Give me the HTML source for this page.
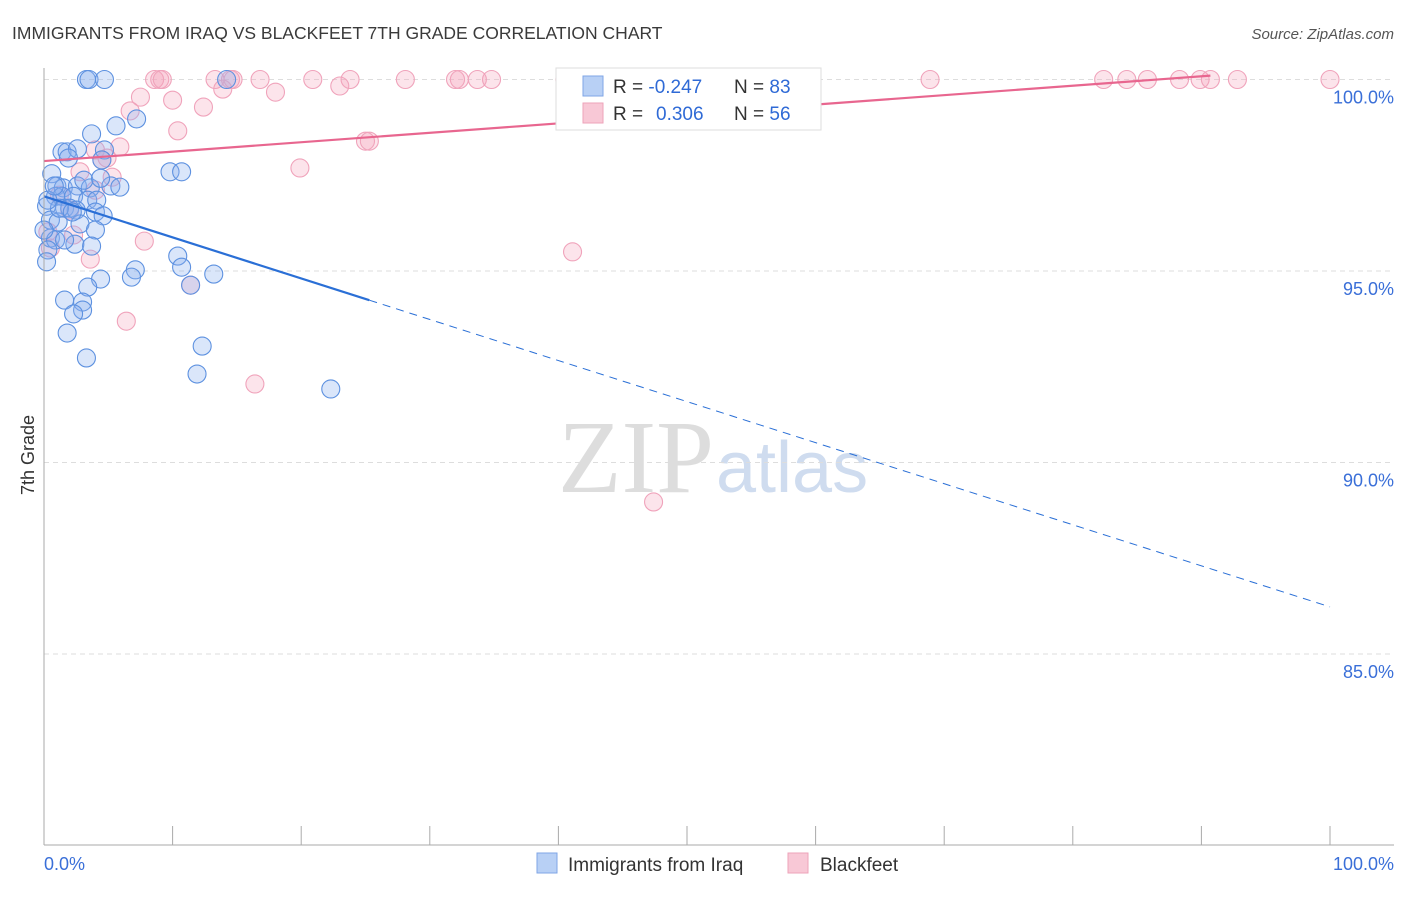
<!DOCTYPE html>
<html><head><meta charset="utf-8"><style>
body{margin:0;background:#fff;font-family:"Liberation Sans",sans-serif}
</style></head><body>
<svg id="c" width="1406" height="892" xmlns="http://www.w3.org/2000/svg" font-family="Liberation Sans, sans-serif">
<text x="12" y="39" font-size="17.5" fill="#3a3a3a">IMMIGRANTS FROM IRAQ VS BLACKFEET 7TH GRADE CORRELATION CHART</text>
<text x="1394" y="39" font-size="15" fill="#555" font-style="italic" text-anchor="end">Source: ZipAtlas.com</text>
<text x="34" y="455" font-size="18" fill="#333" transform="rotate(-90 34 455)" text-anchor="middle">7th Grade</text>
<text x="714" y="492" font-size="104" fill="#ddd" text-anchor="end" font-family="Liberation Serif, serif">ZIP</text>
<text x="716" y="492" font-size="72" fill="#cfdcef">atlas</text>
<g id="grid"></g><g id="pts"></g><g id="lines"></g>
<line x1="44" y1="68" x2="44" y2="845" stroke="#aaa"/>
<line x1="44" y1="845" x2="1394" y2="845" stroke="#aaa"/>
<text x="44" y="870" font-size="18" fill="#3a6fd8">0.0%</text>
<text x="1394" y="870" font-size="18" fill="#3a6fd8" text-anchor="end">100.0%</text>
<g>
<rect x="556" y="68" width="265" height="62" fill="#fff" stroke="#ddd"/>
<rect x="583" y="76" width="20" height="20" fill="#b8d0f5" stroke="#7fa6e6"/>
<rect x="583" y="103" width="20" height="20" fill="#f8c8d6" stroke="#eea3ba"/>
<text x="613" y="93" font-size="19" fill="#333">R = <tspan fill="#2f6ad6">-0.247</tspan><tspan x="734">N = </tspan><tspan fill="#2f6ad6">83</tspan></text>
<text x="613" y="120" font-size="19" fill="#333">R = <tspan x="656" fill="#2f6ad6">0.306</tspan><tspan x="734">N = </tspan><tspan fill="#2f6ad6">56</tspan></text>
</g>
<g>
<rect x="537" y="853" width="20" height="20" fill="#b8d0f5" stroke="#7fa6e6"/>
<text x="568" y="871" font-size="19" fill="#333">Immigrants from Iraq</text>
<rect x="788" y="853" width="20" height="20" fill="#f8c8d6" stroke="#eea3ba"/>
<text x="820" y="871" font-size="19" fill="#333">Blackfeet</text>
</g>
</svg>
<script>
const yTicks=[100,95,90,85];
const yTickLabels=["100.0%","95.0%","90.0%","85.0%"];
const xTicks=[0,10,20,30,40,50,60,70,80,90,100];
const iraqX=[3.3,3.5,4.7,14.2,7.2,5.6,3.7,1.4,1.8,2.6,4.7,1.9,4.5,9.8,10.7,0.6,1.0,1.5,2.6,3.6,5.2,5.9,3.1,4.4,0.9,1.4,2.3,3.4,4.1,0.2,1.6,2.0,2.5,4.0,4.6,2.8,0.5,1.1,4.0,0.5,0.9,2.4,3.7,0.3,0.2,10.4,10.7,13.2,7.1,6.8,4.4,3.4,11.4,1.6,3.0,3.0,2.3,1.8,12.3,3.3,11.9,22.3,1.2,2.2,1.6,0,0.3,0.8];
const iraqY=[100,100,100,100,98.97,98.79,98.58,98.11,98.11,98.19,98.16,97.95,97.90,97.59,97.59,97.54,97.22,97.17,97.22,97.17,97.22,97.19,97.37,97.42,96.95,96.95,96.95,96.85,96.85,96.69,96.64,96.64,96.59,96.54,96.44,96.23,96.33,96.28,96.07,95.86,95.81,95.70,95.65,95.55,95.24,95.39,95.10,94.92,95.03,94.84,94.79,94.58,94.63,94.24,94.19,93.98,93.88,93.38,93.04,92.73,92.31,91.92,96.64,96.54,95.81,96.07,96.85,97.22];
const bfX=[8.6,9.0,9.2,13.3,14.5,14.7,16.8,20.9,23.8,28.1,32.0,32.3,33.7,34.8,40.5,68.9,82.4,84.2,85.8,88.3,89.9,90.7,92.8,100,7.5,13.9,18.0,23.0,10.0,12.4,6.7,10.4,25.0,25.3,5.9,4.0,4.5,4.9,19.9,2.8,5.3,4.0,0.3,2.3,7.8,3.6,41.1,11.4,6.4,16.4,47.4,0.5,1.2,2.0];
const bfY=[100,100,100,100,100,100,100,100,100,100,100,100,100,100,100,100,100,100,100,100,100,100,100,100,99.54,99.75,99.67,99.83,99.46,99.28,99.18,98.66,98.39,98.39,98.24,98.16,97.90,97.95,97.69,97.59,97.45,97.11,96.02,95.94,95.78,95.31,95.50,94.63,93.69,92.05,88.97,95.60,96.98,96.59];
const iraqTrend=[96.95,86.23,25.3];
const bfTrend=[97.87,100.33,90.7];
const NS="http://www.w3.org/2000/svg";
const sx=v=>44+v*12.86, sy=v=>79.5+(100-v)*38.3;
function mk(t,a,p){const e=document.createElementNS(NS,t);for(const k in a)e.setAttribute(k,a[k]);p.appendChild(e);return e;}
const grid=document.getElementById('grid');
yTicks.forEach((t,i)=>{
 const l=mk('line',{x1:44,x2:1394,y1:sy(t),y2:sy(t),stroke:'#ddd','stroke-dasharray':'5,4'},grid);
 
 
 const tx=mk('text',{x:1394,y:sy(t)+24,'font-size':18,fill:'#3a6fd8','text-anchor':'end'},grid);
 tx.textContent=yTickLabels[i];
 
 
});
xTicks.forEach(t=>{
 const l=mk('line',{x1:sx(t),x2:sx(t),y1:826,y2:845,stroke:'#aaa'},grid);
 
 
});
const pts=document.getElementById('pts');
bfX.forEach((x,i)=>{
 const c=mk('circle',{cx:sx(x),cy:sy(bfY[i]),r:9,fill:'rgba(244,165,190,0.3)',stroke:'#f0a3bb','stroke-width':1.1},pts);
 
 
});
iraqX.forEach((x,i)=>{
 const c=mk('circle',{cx:sx(x),cy:sy(iraqY[i]),r:9,fill:'rgba(140,178,238,0.32)',stroke:'#5d91e0','stroke-width':1.1},pts);
 
 
});
const lines=document.getElementById('lines');
const ib=x=>iraqTrend[0]+(iraqTrend[1]-iraqTrend[0])*x/100;
let l1=mk('line',{x1:sx(0),y1:sy(ib(0)),x2:sx(iraqTrend[2]),y2:sy(ib(iraqTrend[2])),stroke:'#2a6fd6','stroke-width':2.2},lines);


let l2=mk('line',{x1:sx(iraqTrend[2]),y1:sy(ib(iraqTrend[2])),x2:sx(100),y2:sy(ib(100)),stroke:'#2a6fd6','stroke-width':1,'stroke-dasharray':'8,6'},lines);


const pb=x=>bfTrend[0]+(bfTrend[1]-bfTrend[0])*x/100;
let l3=mk('line',{x1:sx(0),y1:sy(pb(0)),x2:sx(bfTrend[2]),y2:sy(pb(bfTrend[2])),stroke:'#e8668f','stroke-width':2.2},lines);


</script>
</body></html>
